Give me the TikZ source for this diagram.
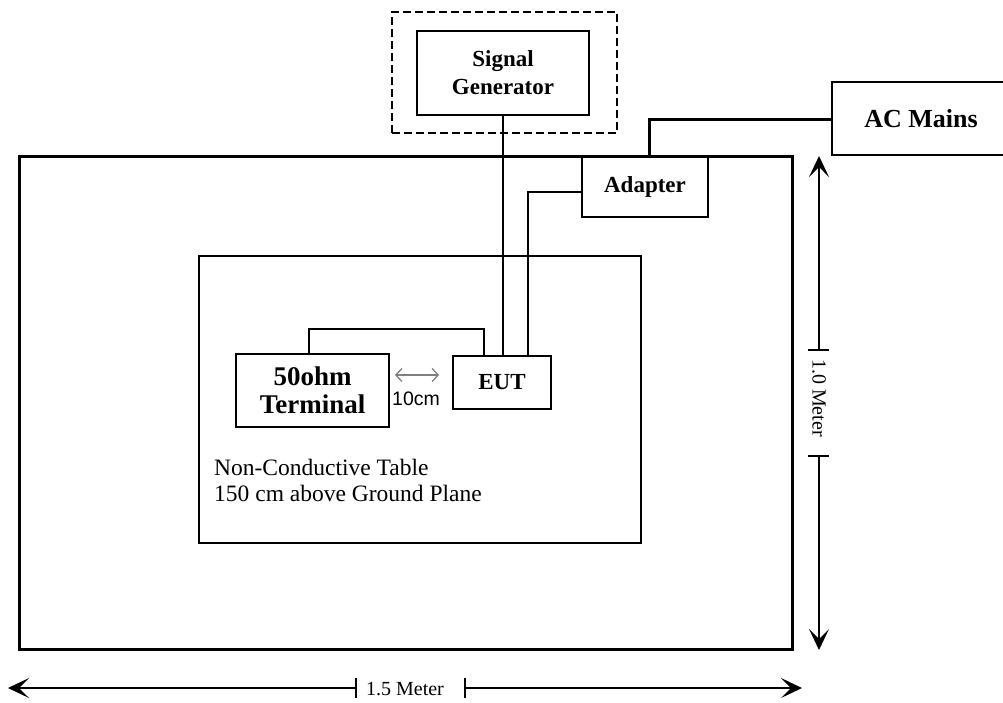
\documentclass[tikz,border=0pt]{standalone}
\usepackage{fontspec}
\setmainfont{Liberation Serif}
\newfontfamily\arialfont{Liberation Sans}
\usetikzlibrary{arrows.meta,calc}
\begin{document}
\begin{tikzpicture}[x=1pt,y=-1pt,
  box/.style={draw,line width=1.5pt,inner sep=0pt,align=center,
    font=\bfseries\fontsize{23}{28}\selectfont},
  plane/.style={draw,line width=3pt,inner sep=0pt},
  tablebox/.style={draw,line width=2pt,inner sep=0pt},
  wire/.style={line width=1.2pt},
  mainswire/.style={line width=3pt},
  dimline/.style={line width=1.2pt},
  dimtip/.style={-{Stealth[length=21pt,width=20pt,inset=10pt]}},
  dimtext/.style={font=\fontsize{20}{22}\selectfont,inner sep=0pt},
  gaparrow/.style={draw=gray,line width=1.3pt,{Straight Barb[length=6pt,width=13pt]}-{Straight Barb[length=6pt,width=13pt]}}]
\useasboundingbox (0,0) rectangle (1003,702);

% ground plane and table
\node[plane,minimum width=773pt,minimum height=493pt] (ground) at (405.5,403) {};
\node[tablebox,minimum width=442pt,minimum height=287pt] (table) at (420,399.5) {};
\node[anchor=west,align=left,inner sep=0pt,font=\fontsize{23.5}{26}\selectfont] (tabletext) at (214,480) {Non-Conductive Table\\150 cm above Ground Plane};

% signal generator
\node[draw,dashed,dash pattern=on 8pt off 4pt,line width=1.5pt,minimum width=225pt,minimum height=121pt] (shield) at (504.5,72.5) {};
\node[box,minimum width=172pt,minimum height=84pt] (sg) at (503,73) {Signal\\Generator};

% adapter and mains
\node[box,minimum width=126pt,minimum height=60pt] (adapter) at (645,187) {Adapter};
\node[box,minimum width=178pt,minimum height=73pt,font=\bfseries\fontsize{26}{28}\selectfont] (ac) at (921,118.5) {AC Mains};

% EUT and terminal
\node[box,minimum width=98pt,minimum height=53pt] (eut) at (502,382.5) {EUT};
\node[box,minimum width=153pt,minimum height=73pt,font=\bfseries\fontsize{27}{28}\selectfont] (term) at (312.5,390.5) {50ohm\\Terminal};

% connectors
\draw[wire] (sg.south) -- (sg.south |- eut.north);
\coordinate (a1) at (528,192);
\draw[wire] (adapter.west |- a1) -- (a1) -- (a1 |- eut.north);
\coordinate (t1) at (309,329);
\coordinate (t2) at (484,329);
\draw[wire] (t1 |- term.north) -- (t1) -- (t2) -- (t2 |- eut.north);
\coordinate (m1) at (649,119);
\draw[mainswire] (m1 |- adapter.north) -- (m1) -- (m1 -| ac.west);

% 10 cm gap
\coordinate (g1) at (395,375);
\coordinate (g2) at (439,375);
\draw[gaparrow] (g1) -- (g2);
\node[font=\arialfont\fontsize{19.5}{20}\selectfont,inner sep=0pt] (gaptext) at (416,399) {10cm};

% vertical dimension
\coordinate (v1) at (819,156);
\coordinate (v2) at (819,350);
\coordinate (v3) at (819,456);
\coordinate (v4) at (819,650);
\draw[dimline,dimtip] (v2) -- (v1);
\draw[dimline,dimtip] (v3) -- (v4);
\draw[dimline] ($(v2)+(-11,0)$) -- ($(v2)+(10,0)$);
\draw[dimline] ($(v3)+(-11,0)$) -- ($(v3)+(10,0)$);
\node[dimtext,rotate=-90] (vtext) at (819,398) {1.0 Meter};

% horizontal dimension
\coordinate (h1) at (8,688);
\coordinate (h2) at (356,688);
\coordinate (h3) at (465,688);
\coordinate (h4) at (802,688);
\draw[dimline,dimtip] (h2) -- (h1);
\draw[dimline,dimtip] (h3) -- (h4);
\draw[dimline] ($(h2)+(0,-10)$) -- ($(h2)+(0,10)$);
\draw[dimline] ($(h3)+(0,-10)$) -- ($(h3)+(0,10)$);
\node[dimtext] (htext) at (405,689) {1.5 Meter};
\end{tikzpicture}
\end{document}
